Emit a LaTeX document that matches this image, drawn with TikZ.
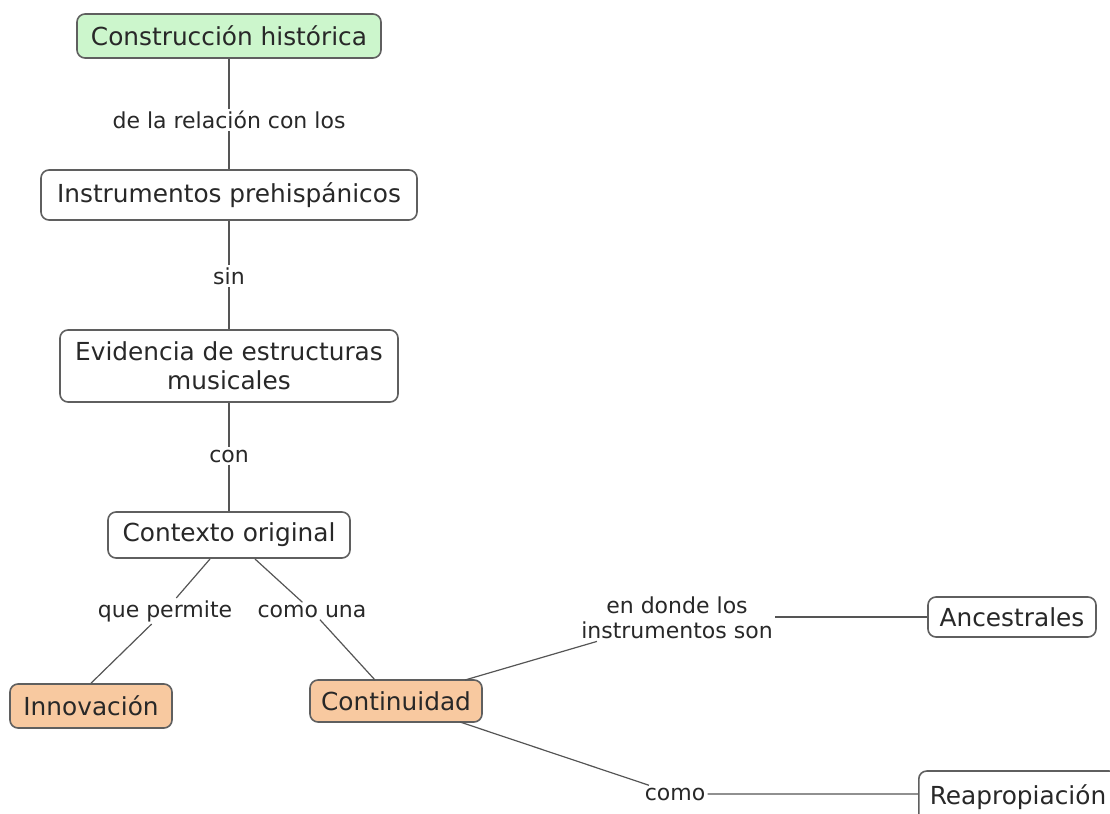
\documentclass[tikz,border=0pt]{standalone}
\usepackage{fontspec}
\setmainfont{DejaVu Sans}
\usepackage{xcolor}
\usetikzlibrary{positioning}
\definecolor{conceptgreen}{RGB}{204,246,204}
\definecolor{conceptorange}{RGB}{248,201,160}
\definecolor{borderdark}{RGB}{95,95,95}
\definecolor{linkgray}{RGB}{85,85,85}
\definecolor{textdark}{RGB}{40,40,40}
\tikzset{
    % Concept box styles
    concept/.style={
        rectangle, draw=borderdark, fill=white, thick,
        rounded corners=4pt, align=center,
        inner xsep=4pt, inner ysep=3pt,
        font=\fontsize{12.4}{14.5}\selectfont, text=textdark
    },
    rootconcept/.style={concept, fill=conceptgreen},
    keyconcept/.style={concept, fill=conceptorange},
    linkword/.style={
        rectangle, fill=white, inner sep=1pt, align=center,
        font=\fontsize{11}{12.5}\selectfont, text=textdark
    },
    link/.style={draw=linkgray, semithick}
}

\begin{document}
\begin{tikzpicture}[x=0.5pt, y=-0.5pt]
\useasboundingbox (0,0) rectangle (1110,814);

% Main chain
\node[rootconcept, minimum width=152pt, minimum height=22pt] (hist) at (229,36) {Construcción histórica};
\node[linkword] (rel) at (229,120) {de la relación con los};
\node[concept, minimum width=188pt, minimum height=25pt] (instr) at (229,195) {Instrumentos prehispánicos};
\node[linkword] (sin) at (229,276) {sin};
\node[concept, minimum width=169pt, minimum height=36pt] (evid) at (229,366) {Evidencia de estructuras\\musicales};
\node[linkword] (con) at (229,456) {con};
\node[concept, minimum width=121pt, minimum height=23pt] (ctx) at (229,535) {Contexto original};

% Branches
\node[linkword] (perm) at (165,611) {que permite};
\node[linkword] (una) at (312,611) {como una};
\node[keyconcept, minimum width=81pt, minimum height=22pt] (innov) at (91,706) {Innovación};
\node[keyconcept, minimum width=86pt, minimum height=21pt] (cont) at (396,701) {Continuidad};

\node[linkword] (donde) at (677,618) {en donde los\\instrumentos son};
\node[concept, minimum width=84pt, minimum height=20pt] (anc) at (1012,617) {Ancestrales};
\node[linkword] (como) at (675,794) {como};
\node[concept, inner xsep=5.5pt, minimum height=26pt, anchor=west] (reap) at (918,797) {Reapropiación};

% Connector ends on box borders
\coordinate (ctxl) at (210,559);
\coordinate (ctxr) at (255,559);
\coordinate (contl) at (375,680);
\coordinate (contr) at (465,680);
\coordinate (contb) at (460,722);

% Connectors
\draw[link] (hist) -- (rel) -- (instr);
\draw[link] (instr) -- (sin) -- (evid);
\draw[link] (evid) -- (con) -- (ctx);
\draw[link] (ctxl) -- (perm) -- (innov.north);
\draw[link] (ctxr) -- (una) -- (contl);
\draw[link] (contr) -- (donde);
\draw[link] (donde.east |- anc) -- (anc);
\draw[link] (contb) -- (como) -- (reap.west |- como);

\end{tikzpicture}
\end{document}
